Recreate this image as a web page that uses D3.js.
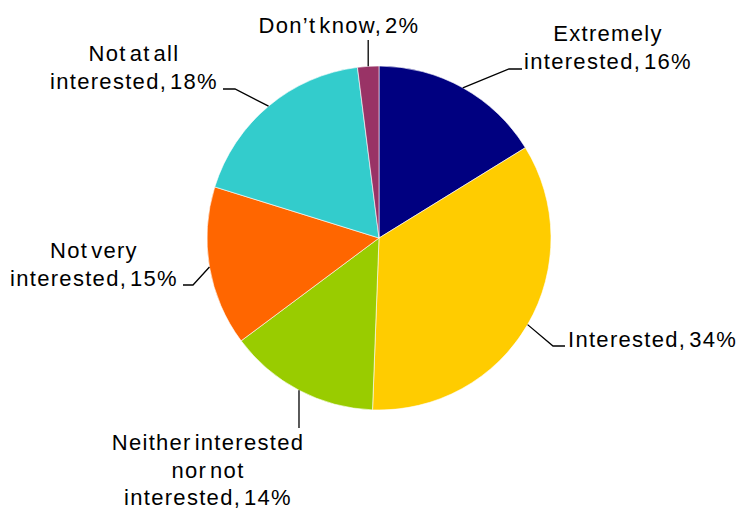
<!DOCTYPE html>
<html>
<head>
<meta charset="utf-8">
<script src="https://cdn.jsdelivr.net/npm/d3@7"></script>
<style>
  body { margin: 0; background: #fff; }
  text { font-family: "Liberation Sans", Arial, sans-serif; font-size: 22px; fill: #000; letter-spacing: 1.3px; word-spacing: -4.5px; }
</style>
</head>
<body>
<div id="chart"></div>
<script>
// categories, shares, and the labels shown
const categories = ['Extremely interested', 'Interested', 'Neither interested nor not interested', 'Not very interested', 'Not at all interested', "Don\u2019t know"];
const shares = [16.2, 34.4, 14.2, 15.0, 18.2, 2.0];
const labelLines = [
  ['Extremely', 'interested, 16%'],
  ['Interested, 34%'],
  ['Neither interested', 'nor not', 'interested, 14%'],
  ['Not very', 'interested, 15%'],
  ['Not at all', 'interested, 18%'],
  ["Don\u2019t know, 2%"]
];
const colors = ['#000080', '#ffcc00', '#99cc00', '#ff6600', '#33cccc', '#993366'];

(function () {
  const w = 738;
  const h = 510;
  const cx = 379;
  const cy = 238;
  const r = 172;
  const lineH = 27.5;

  // label placement: text anchor point (first baseline), elbow of the leader line
  const layout = [
    { x: 608, y: 41, anchor: 'middle', elbow: [509, 69], end: [522, 69] },
    { x: 568, y: 347, anchor: 'start', elbow: [553, 346], end: [565, 346] },
    { x: 208, y: 450, anchor: 'middle', elbow: null, end: [null, 428] },
    { x: 94, y: 258, anchor: 'middle', elbow: [193, 285], end: [183, 285] },
    { x: 134, y: 61, anchor: 'middle', elbow: [235, 89], end: [223, 89] },
    { x: 339, y: 33, anchor: 'middle', elbow: null, end: [null, 40] }
  ];

  const data = categories.map((c, i) => ({ name: c, value: shares[i], i: i }));

  const pie = d3.pie().value(d => d.value).sort(null);
  const arcs = pie(data);
  const arc = d3.arc().innerRadius(0).outerRadius(r);

  const svg = d3.select('#chart')
    .append('svg')
    .attr('width', w)
    .attr('height', h);

  const g = svg.append('g')
    .attr('transform', 'translate(' + cx + ',' + cy + ')');

  g.selectAll('path')
    .data(arcs)
    .enter()
    .append('path')
    .attr('d', arc)
    .attr('fill', d => colors[d.data.i])
    .attr('stroke', '#fff')
    .attr('stroke-width', 0.6);

  // leader lines start on the rim at each slice's mid angle
  arcs.forEach((a, i) => {
    const mid = (a.startAngle + a.endAngle) / 2;
    const sx = cx + r * Math.sin(mid);
    const sy = cy - r * Math.cos(mid);
    const L = layout[i];
    let pts;
    if (L.elbow) {
      pts = [[sx, sy], L.elbow, L.end];
    } else {
      pts = [[sx, sy], [sx, L.end[1]]];
    }
    svg.append('path')
      .attr('d', d3.line()(pts))
      .attr('fill', 'none')
      .attr('stroke', '#000')
      .attr('stroke-width', 1.3);
  });

  labelLines.forEach((lines, i) => {
    const L = layout[i];
    const t = svg.append('text')
      .attr('text-anchor', L.anchor);
    lines.forEach((s, j) => {
      t.append('tspan')
        .attr('x', L.x)
        .attr('y', L.y + j * lineH)
        .text(s);
    });
  });
})();
</script>
</body>
</html>
